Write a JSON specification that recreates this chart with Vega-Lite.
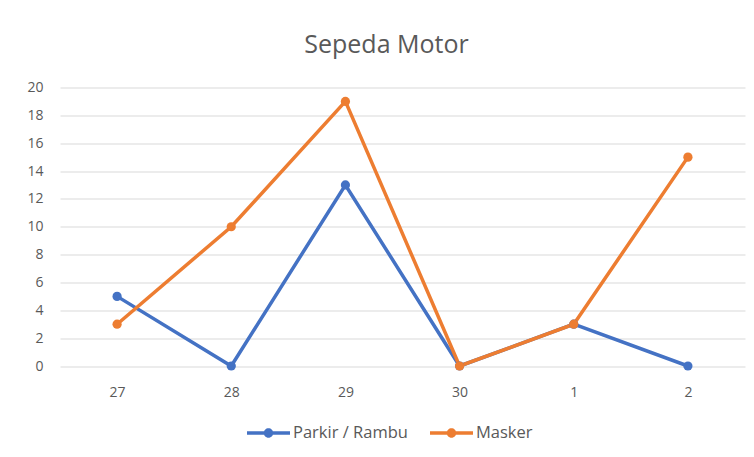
{
  "$schema": "https://vega.github.io/schema/vega-lite/v6.json",
  "autosize": "none",
  "width": 685,
  "height": 278.5,
  "padding": {"left": 60, "top": 87.5, "right": 9, "bottom": 91},
  "background": "#ffffff",
  "title": {"text": "Sepeda Motor", "font": "Open Sans", "fontSize": 25, "fontWeight": "normal", "color": "#595959", "anchor": "middle", "dx": -16, "offset": 23},
  "config": {"view": {"stroke": null}, "font": "Open Sans"},
  "data": {"values": [
    {"day": "27", "series": "Parkir / Rambu", "value": 5},
    {"day": "28", "series": "Parkir / Rambu", "value": 0},
    {"day": "29", "series": "Parkir / Rambu", "value": 13},
    {"day": "30", "series": "Parkir / Rambu", "value": 0},
    {"day": "1", "series": "Parkir / Rambu", "value": 3},
    {"day": "2", "series": "Parkir / Rambu", "value": 0},
    {"day": "27", "series": "Masker", "value": 3},
    {"day": "28", "series": "Masker", "value": 10},
    {"day": "29", "series": "Masker", "value": 19},
    {"day": "30", "series": "Masker", "value": 0},
    {"day": "1", "series": "Masker", "value": 3},
    {"day": "2", "series": "Masker", "value": 15}
  ]},
  "encoding": {
    "x": {"field": "day", "type": "nominal", "sort": ["27", "28", "29", "30", "1", "2"], "scale": {"type": "point", "padding": 0.5},
      "axis": {"title": null, "labelAngle": 0, "labelColor": "#595959", "labelFontSize": 14, "labelPadding": 19, "ticks": false, "domain": false, "grid": false}},
    "y": {"field": "value", "type": "quantitative", "scale": {"domain": [0, 20]},
      "axis": {"title": null, "values": [0,2,4,6,8,10,12,14,16,18,20], "labelColor": "#595959", "labelFontSize": 14, "labelPadding": 17, "ticks": false, "domain": false, "gridColor": "#D9D9D9", "gridWidth": 1}},
    "color": {"field": "series", "type": "nominal", "sort": ["Parkir / Rambu", "Masker"],
      "scale": {"domain": ["Parkir / Rambu", "Masker"], "range": ["#4472C4", "#ED7D31"]},
      "legend": {"title": null, "orient": "none", "direction": "horizontal", "legendX": 187, "legendY": 324,
        "symbolType": "M -1 -0.08 H 1 V 0.08 H -1 Z M 0.22 0 A 0.22 0.22 0 1 1 -0.22 0 A 0.22 0.22 0 1 1 0.22 0 Z",
        "symbolSize": 1849, "symbolStrokeWidth": 0, "labelOffset": 3, "columnPadding": 22,
        "labelFontSize": 16.5, "labelColor": "#595959",
        "encode": {"symbols": {"update": {"fill": {"scale": "color", "field": "value"}, "fillOpacity": {"value": 1}, "strokeWidth": {"value": 0}}}}}}
  },
  "layer": [
    {"mark": {"type": "line", "strokeWidth": 3.5}},
    {"mark": {"type": "point", "filled": true, "opacity": 1, "size": 85}}
  ]
}
